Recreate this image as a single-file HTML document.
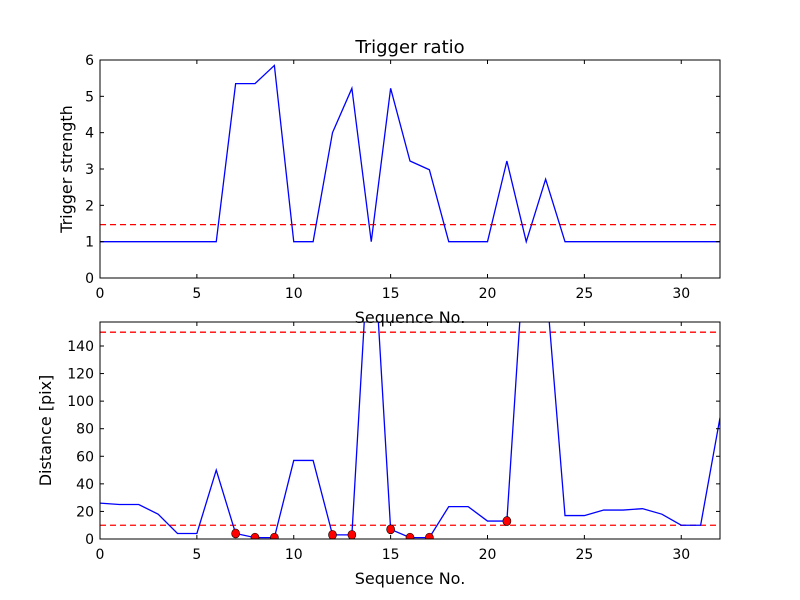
<!DOCTYPE html>
<html><head><meta charset="utf-8"><style>
body{margin:0;background:#fff}
svg{display:block;font-family:"DejaVu Sans","Liberation Sans",sans-serif}
</style></head><body>
<svg id="c" width="800" height="600"></svg>
<script>
const seq = [0,1,2,3,4,5,6,7,8,9,10,11,12,13,14,15,16,17,18,19,20,21,22,23,24,25,26,27,28,29,30,31,32];
const strength = [1,1,1,1,1,1,1,5.35,5.35,5.85,1,1,4,5.22,1,5.22,3.22,2.98,1,1,1,3.22,1,2.72,1,1,1,1,1,1,1,1,1];
const strengthThreshold = [1.47];
const distance = [26,25,25,18,4,4,50,4,1,1,57,57,3,3,245,7,1,1,23.5,23.5,13,13,230,190,17,17,21,21,22,18,10,10,88];
const markerIdx = [7,8,9,12,13,15,16,17,21];
const distThresholds = [10,150];
const xTicks = [0,5,10,15,20,25,30];
const yTicksTop = [0,1,2,3,4,5,6];
const yTicksBot = [0,20,40,60,80,100,120,140];

const NS="http://www.w3.org/2000/svg";
const svg=document.getElementById('c');
function mk(t,a,p){const e=document.createElementNS(NS,t);for(const k in a)e.setAttribute(k,a[k]);(p||svg).appendChild(e);return e;}
const L=100,R=720;
const sx=v=>L+(v-0)/(32-0)*(R-L);

function panel(name,top,bot,ymin,ymax,yTicks,ys,thr,ylabel,ylx,markers){
  const sy=v=>bot-(v-ymin)/(ymax-ymin)*(bot-top);
  const g=mk('g',{});
  
  
  const cid='clip-'+name;
  const cp=mk('clipPath',{id:cid},g);mk('rect',{x:L,y:top,width:R-L,height:bot-top},cp);
  const pg=mk('g',{'clip-path':'url(#'+cid+')'},g);
  thr.forEach(t=>{const l=mk('line',{x1:L,x2:R,y1:sy(t),y2:sy(t),stroke:'#ff0000','stroke-width':1.3,'stroke-dasharray':'6,4'},pg);
    });
  const pts=seq.map((x,i)=>sx(x)+','+sy(ys[i])).join(' ');
  const pl=mk('polyline',{points:pts,fill:'none',stroke:'#0000ff','stroke-width':1.3},pg);
  
  if(markers)markers.forEach(i=>{const c=mk('ellipse',{cx:sx(seq[i]),cy:sy(ys[i]),rx:4,ry:4.5,fill:'#ff0000',stroke:'#000','stroke-width':0.6},pg);
    });
  mk('rect',{x:L,y:top,width:R-L,height:bot-top,fill:'none',stroke:'#000','stroke-width':1},g);
  xTicks.forEach(t=>{const x=sx(t);
    mk('line',{x1:x,x2:x,y1:bot,y2:bot-4,stroke:'#000'},g);mk('line',{x1:x,x2:x,y1:top,y2:top+4,stroke:'#000'},g);
    const tx=mk('text',{x:x,y:bot+20,'font-size':14,'text-anchor':'middle'},g);tx.textContent=t;
    });
  yTicks.forEach(t=>{const y=sy(t);
    mk('line',{x1:L,x2:L+4,y1:y,y2:y,stroke:'#000'},g);mk('line',{x1:R,x2:R-4,y1:y,y2:y,stroke:'#000'},g);
    const tx=mk('text',{x:L-6,y:y+5,'font-size':14,'text-anchor':'end'},g);tx.textContent=t;
    });
  const xl=mk('text',{x:(L+R)/2,y:bot+45,'font-size':16,'text-anchor':'middle'},g);xl.textContent='Sequence No.';
  
  const yl=mk('text',{x:ylx,y:(top+bot)/2,'font-size':16,'text-anchor':'middle',transform:'rotate(-90 '+ylx+' '+(top+bot)/2+')'},g);yl.textContent=ylabel;
  
}
panel('trigger-strength-panel',60,278,0,6,yTicksTop,strength,strengthThreshold,'Trigger strength',72,null);
panel('distance-panel',322,539,0,157.4,yTicksBot,distance,distThresholds,'Distance [pix]',51,markerIdx);
const t=mk('text',{x:410,y:53,'font-size':18,'text-anchor':'middle'});t.textContent='Trigger ratio';

</script>
</body></html>
